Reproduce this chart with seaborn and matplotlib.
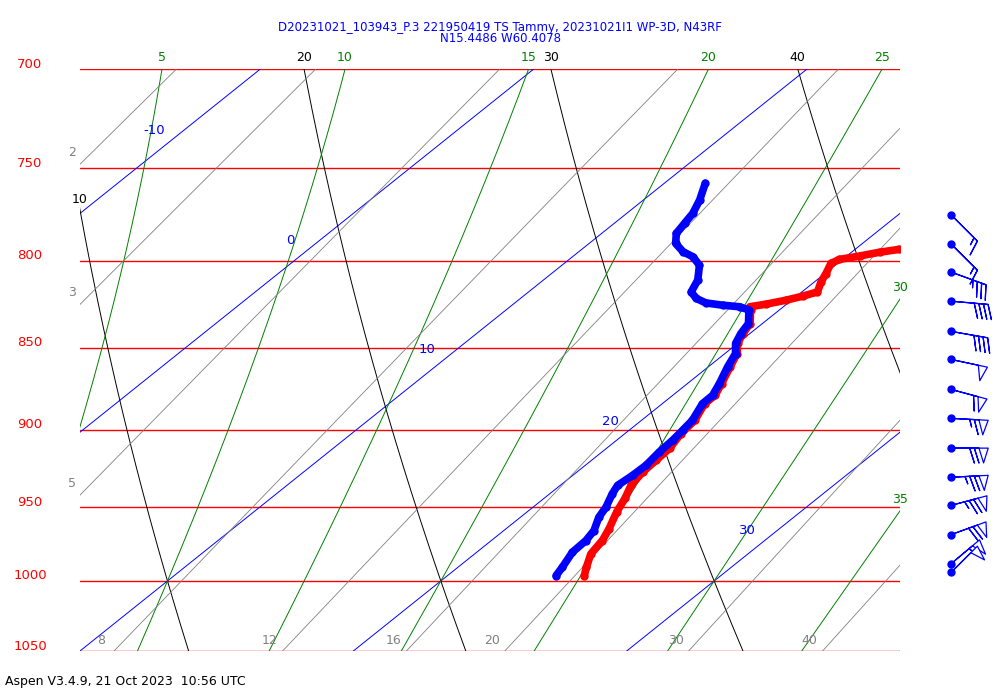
import numpy as np
import pandas as pd
import matplotlib
matplotlib.use("Agg")
import matplotlib.pyplot as plt
import seaborn as sns

sns.set_theme(style="white")
plt.rcParams['font.family'] = ['DejaVu Sans']

# ---- data ----
temp_p = [996.2, 990.5, 981.3, 972.2, 964.3, 952.8, 944.0, 935.6, 927.0, 919.4, 911.8, 902.4,
          894.1, 883.8, 878.7, 871.5, 861.5, 853.5, 847.5, 841.7, 835.8, 828.0, 826.1,
          824.6, 822.3, 820.0, 817.6, 811.9, 807.2, 801.5, 799.3, 797.4, 795.3, 793.7]
temp_t = [25.0, 24.7, 24.25, 24.06, 23.77, 23.27, 22.96, 22.59, 22.41, 22.36, 22.31, 22.05,
          21.95, 21.55, 21.55, 21.25, 20.8, 20.45, 20.0, 19.75, 19.55, 18.95, 18.77,
          19.25, 19.8, 20.23, 20.57, 20.24, 20.04, 19.76, 19.89, 20.47, 21.03, 21.62]
dew_p = [996.2, 990.5, 980.2, 972.2, 965.5, 956.6, 949.9, 941.1, 935.6, 929.1, 922.6, 914.1,
         906.6, 900.4, 894.1, 883.8, 878.7, 871.5, 861.5, 853.5, 847.5, 841.7, 835.8, 828.0,
         826.1, 825.2, 823.9, 821.3, 817.6, 810.9, 802.5, 797.8, 795.0, 790.4, 784.9, 779.4,
         774.1, 766.9, 758.0]
dew_t = [23.97, 23.82, 23.5, 23.46, 23.3, 22.87, 22.67, 22.29, 22.1, 22.19, 22.22, 22.1,
         22.05, 21.96, 21.86, 21.47, 21.46, 21.17, 20.71, 20.39, 19.93, 19.67, 19.49, 18.89,
         18.4, 17.71, 16.99, 16.43, 15.95, 15.65, 15.03, 14.4, 13.81, 13.16, 12.73, 12.57,
         12.42, 12.06, 11.5]
barb_p = [774.9, 790.8, 806.4, 822.9, 840.4, 857.0, 875.1, 892.9, 911.6, 930.3, 948.7, 968.2, 988.0, 994.0]
barb_dir = [135, 135, 110, 95, 100, 102, 105, 93, 90, 87, 75, 70, 50, 45]
barb_spd = [15, 15, 35, 40, 40, 50, 60, 65, 70, 75, 75, 70, 60, 50]

isobars = [700, 750, 800, 850, 900, 950, 1000, 1050]
isotherms = list(range(-80, 50, 10))
iso_labels = {-10: 730.4, 0: 788.6, 10: 850.8, 20: 894.6, 30: 965.5}
dry_thetas = [-10, 0, 10, 20, 30, 40, 50, 60]
moist_thetas = [5, 10, 15, 20, 25, 30, 35]
mix_ratios = [2, 3, 5, 8, 12, 16, 20, 30, 40]
mix_left = [2, 3, 5]

title1 = "D20231021_103943_P.3 221950419 TS Tammy, 20231021I1 WP-3D, N43RF"
title2 = "N15.4486 W60.4078"
footer = "Aspen V3.4.9, 21 Oct 2023  10:56 UTC"

SKEW = 65.6
PB, PT = 1050.0, 700.0
XL, XR = 10.0, 40.0

def X(T, p):
    return np.asarray(T) + SKEW * np.log(PB / np.asarray(p))

fig = plt.figure(figsize=(10, 7), dpi=100)
ax = fig.add_axes([0.08, 0.07, 0.82, 0.8314])
ax.set_yscale('log')
ax.set_ylim(PB, PT)
ax.set_xlim(XL, XR)
ax.set_axis_off()

pp = np.geomspace(PB, PT, 200)

# isobars
for p in isobars:
    ax.plot([XL, XR], [p, p], color='red', lw=1.0)
    ax.annotate(str(p), xy=(0, p), xycoords=('figure fraction', 'data'), xytext=(30, 5),
                textcoords='offset pixels', color='red', fontsize=9.5, ha='center', va='center')

# isotherms
for T in isotherms:
    ax.plot(X(np.full_like(pp, T), pp), pp, color='blue', lw=0.7)
for T, p in iso_labels.items():
    ax.annotate(str(T), xy=(X(T, p), p), xytext=(-30, 0), textcoords='offset pixels',
                color='blue', fontsize=9.5, ha='center', va='center')

# dry adiabats
for th in dry_thetas:
    TT = (th + 273.15) * (pp / 1000.0) ** 0.2857 - 273.15
    xx = X(TT, pp)
    ax.plot(xx, pp, color='black', lw=0.7)
    xt = xx[-1]
    if XL <= xt <= XR:
        ax.annotate(str(th), xy=(xt, PT), xytext=(0, 12), textcoords='offset pixels',
                    ha='center', va='center', fontsize=9, color='black')
    elif xt < XL and xx[0] > XL:
        pl = np.exp(np.interp(XL, xx[::-1], np.log(pp[::-1])))
        ax.annotate(str(th), xy=(XL, pl), xytext=(0, 10), textcoords='offset pixels',
                    ha='center', va='center', fontsize=9, color='black')

# moist adiabats
Rd, cp, Lv, eps = 287.04, 1005.7, 2.501e6, 0.622
def es(T):
    return 6.112 * np.exp(17.67 * T / (T + 243.5))
def dTdp(T, p):
    rs = eps * es(T) / (p - es(T))
    Tk = T + 273.15
    return (Rd * Tk + Lv * rs) / (p * (cp + Lv * Lv * rs * eps / (Rd * Tk * Tk)))
def moist(tw):
    T = tw; p = 1000.0; down = [(p, T)]
    while p < 1050:
        T += dTdp(T, p); p += 1.0
        down.append((p, T))
    T = tw; p = 1000.0; up = []
    while p > 695:
        T -= dTdp(T, p); p -= 1.0
        up.append((p, T))
    pts = down[::-1] + up
    return np.array([a for a, b in pts]), np.array([b for a, b in pts])
for tw in moist_thetas:
    mp, mt = moist(tw)
    xx = X(mt, mp)
    ax.plot(xx, mp, color='green', lw=0.7)
    top = np.interp(np.log(PT), np.log(mp[::-1]), xx[::-1])
    if top <= XR:
        ax.annotate(str(tw), xy=(top, PT), xytext=(0, 12), textcoords='offset pixels',
                    ha='center', va='center', fontsize=9, color='green')
    else:
        k = np.where(xx <= XR)[0]
        pr = mp[k[-1]]
        ax.annotate(str(tw), xy=(XR, pr), xytext=(0, 12), textcoords='offset pixels',
                    ha='center', va='center', fontsize=9, color='green')

# mixing ratio lines
for w in mix_ratios:
    e = w * pp / (622.0 + w)
    TT = 243.5 * np.log(e / 6.112) / (17.67 - np.log(e / 6.112))
    xx = X(TT, pp)
    ax.plot(xx, pp, color='gray', lw=0.6)
    if w in mix_left:
        pl = np.exp(np.interp(XL, xx, np.log(pp)))
        ax.annotate(str(w), xy=(XL, pl), xytext=(-8, 12), textcoords='offset pixels',
                    ha='center', va='center', fontsize=9, color='gray')
    else:
        ax.annotate(str(w), xy=(xx[0], PB), xytext=(-13, 11), textcoords='offset pixels',
                    ha='center', va='center', fontsize=9, color='gray')

# profiles
dfT = pd.DataFrame({'x': X(temp_t, temp_p), 'p': temp_p})
dfD = pd.DataFrame({'x': X(dew_t, dew_p), 'p': dew_p})
sns.lineplot(data=dfT, x='x', y='p', sort=False, estimator=None, color='red', lw=5.5,
             marker='o', markersize=6, markeredgewidth=0, ax=ax)
sns.lineplot(data=dfD, x='x', y='p', sort=False, estimator=None, color='blue', lw=5.5,
             marker='o', markersize=6, markeredgewidth=0, ax=ax)
ax.set_xlim(XL, XR); ax.set_ylim(PB, PT)
ax.set_axis_off()

# wind barbs
bx = fig.add_axes([0.92, 0.07, 0.08, 0.8314])
bx.set_yscale('log'); bx.set_ylim(PB, PT); bx.set_xlim(0, 1); bx.set_axis_off()
d = np.deg2rad(barb_dir); s = np.array(barb_spd, float)
u = -s * np.sin(d); v = -s * np.cos(d)
xb = np.full(len(barb_p), 0.39)
bx.barbs(xb, barb_p, u, v, length=7.3, barbcolor='blue', flagcolor='white', linewidth=0.9)
bx.scatter(xb, barb_p, s=25, color='blue', zorder=3)

fig.text(0.5, 1 - 27 / 700, title1, color='blue', fontsize=8.5, ha='center', va='center')
fig.text(0.5, 1 - 39 / 700, title2, color='blue', fontsize=8.5, ha='center', va='center')
fig.text(0.005, 1 - 682 / 700, footer, color='black', fontsize=9, ha='left', va='center')

fig.savefig('out.png', dpi=100)
